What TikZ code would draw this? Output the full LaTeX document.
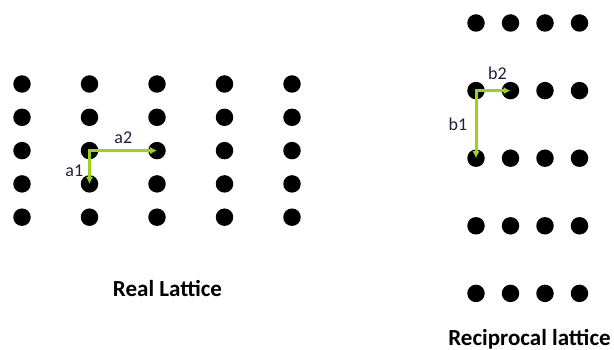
\documentclass[tikz,border=0pt]{standalone}
\usepackage{fontspec}
\setmainfont{Carlito}
\usetikzlibrary{arrows.meta}
\definecolor{vec}{HTML}{9BD318}
\definecolor{lbl}{HTML}{1A2238}

\begin{document}
\begin{tikzpicture}[x=1pt, y=-1pt,
      site/.style={circle, fill=black, inner sep=0pt, minimum size=17.5pt},
      arr/.style={-{Latex[length=7pt, width=7.5pt]}, line width=3pt, line cap=rect, vec},
      lab/.style={text=lbl, font=\fontsize{18}{20}\selectfont},
      title/.style={anchor=base, font=\fontsize{23}{26}\selectfont\bfseries}]
    \useasboundingbox (0,0) rectangle (614,350);
    \foreach \i in {1,...,5}
      \foreach \j in {1,...,5}
        \node[site] (r\i\j) at ({22+67.5*(\i-1)}, {84+33.3*(\j-1)}) {};
    \foreach \i in {1,...,4}
      \foreach \j in {1,...,5}
        \node[site] (k\i\j) at ({476+34.5*(\i-1)}, {23+67.6*(\j-1)}) {};
    \draw[arr] (r23.center) -- node[lab, left=1.5pt, pos=0.62]{a1} (r24.center);
    \draw[arr] (r23.center) -- node[lab, above=2pt]{a2} (r33.center);
    \draw[arr] (k12.center) -- node[lab, left=4pt]{b1} (k13.center);
    \draw[arr] (k12.center) -- node[lab, above=6pt, pos=0.62]{b2} (k22.center);
    \node[title] (real) at (167.5,297) {Real Lattice};
    \node[title] (recip) at (529.5,345) {Reciprocal lattice};
  \end{tikzpicture}
\end{document}
